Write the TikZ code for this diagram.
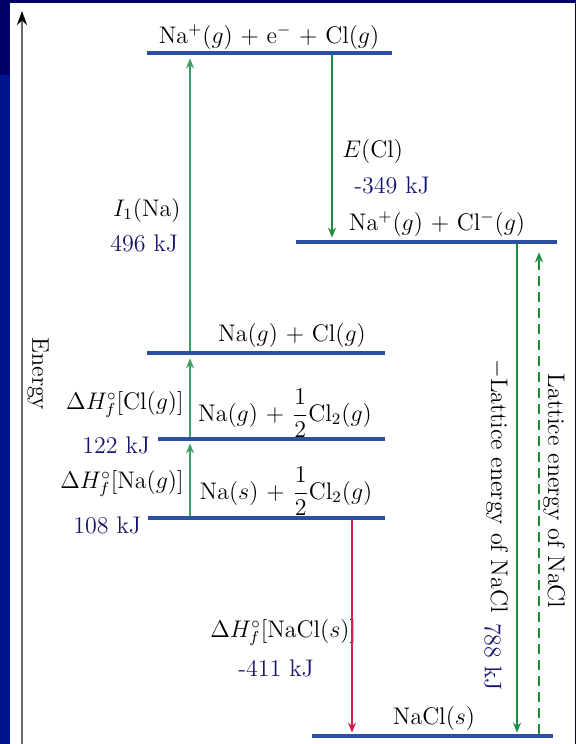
\documentclass[tikz,border=0pt]{standalone}
\usetikzlibrary{arrows.meta,positioning}
\definecolor{bhNavy}{HTML}{000066}
\definecolor{bhRoyal}{HTML}{00158C}
\definecolor{bhLevel}{HTML}{2B4FA3}
\definecolor{bhGreen}{HTML}{3DA062}
\definecolor{bhDkGreen}{HTML}{1E8C3C}
\definecolor{bhRed}{HTML}{D2204C}
\definecolor{bhValue}{HTML}{16166E}
\definecolor{bhAxis}{HTML}{6A6A6A}

\begin{document}
\begin{tikzpicture}[
  x=0.5pt,y=-0.5pt,
  font=\fontsize{12}{14}\selectfont,
  level/.style={fill=bhLevel,inner sep=0pt,minimum height=2pt},
  lbl/.style={anchor=base,inner sep=0pt},
  val/.style={inner sep=0pt,text=bhValue},
  gup/.style={-{Stealth[length=5pt,width=4pt]},bhGreen,line width=0.75pt},
  gdown/.style={-{Stealth[length=5pt,width=4pt]},bhDkGreen,line width=0.75pt},
  rdown/.style={-{Stealth[length=5pt,width=4pt]},bhRed,line width=0.75pt}
]
\useasboundingbox (0,0) rectangle (576,744);
% slide frame
\fill[white] (0,0) rectangle (576,744);
\fill[bhNavy] (0,0) rectangle (576,3);
\fill[bhNavy] (0,0) rectangle (10,75);
\fill[bhRoyal] (0,75) rectangle (10,744);
\fill[bhNavy] (575,0) rectangle (576,744);

% energy axis
\coordinate (axisBot) at (22,744);
\coordinate (axisTop) at (22,11);
\draw[bhAxis,line width=1.2pt,-{Stealth[length=7pt,width=5pt,black]}] (axisBot) -- (axisTop);
\node[rotate=-90] (energy) at (38,374) {Energy};

% levels
\node[level,minimum width=122.5pt] (ionized) at (269.5,53)  {};
\node[level,minimum width=130.5pt] (ions)    at (426.5,242) {};
\node[level,minimum width=119pt]   (atoms)   at (266,353)   {};
\node[level,minimum width=113.5pt] (halfcl)  at (271.5,439) {};
\node[level,minimum width=118.5pt] (elem)    at (266.5,518) {};
\node[level,minimum width=120.5pt] (salt)    at (432.5,736) {};

\node[lbl] (ionizedLbl) at (269,43)  {Na$^+$($g$) + e$^-$ + Cl($g$)};
\node[lbl] (ionsLbl)    at (437,230) {Na$^+$($g$) + Cl$^-$($g$)};
\node[lbl] (atomsLbl)   at (292,341) {Na($g$) + Cl($g$)};
\node[lbl] (halfclLbl)  at (285,421) {Na($g$) + ${\displaystyle\frac{1}{2}}$Cl$_2$($g$)};
\node[lbl] (elemLbl)    at (286,499) {Na($s$) + ${\displaystyle\frac{1}{2}}$Cl$_2$($g$)};
\node[lbl] (saltLbl)    at (434,724) {NaCl($s$)};

% step labels
\node[anchor=base east,inner sep=0pt] (ionLbl) at (181,216) {$I_1$(Na)};
\node[val,anchor=base west] (ionVal) at (110,251) {496 kJ};
\node[anchor=base west,inner sep=0pt] (eaLbl) at (342,157) {$E$(Cl)};
\node[val,anchor=base west] (eaVal) at (354,193) {-349 kJ};
\node[anchor=base east,inner sep=0pt] (hclLbl) at (184,409) {$\Delta H^{\circ}_{f}$[Cl($g$)]};
\node[val,anchor=base west] (hclVal) at (82,453) {122 kJ};
\node[anchor=base east,inner sep=0pt] (hnaLbl) at (184,488) {$\Delta H^{\circ}_{f}$[Na($g$)]};
\node[val,anchor=base west] (hnaVal) at (73,533) {108 kJ};
\node[anchor=base west,inner sep=0pt] (hsaltLbl) at (210,637) {$\Delta H^{\circ}_{f}$[NaCl($s$)]};
\node[val,anchor=base west] (hsaltVal) at (238,676) {-411 kJ};
\node[rotate=-90] (negLat) at (497,486) {$-$Lattice energy of NaCl};
\node[val,rotate=-90] (latVal) at (493,657) {788 kJ};
\node[rotate=-90] (posLat) at (554,491) {Lattice energy of NaCl};

% arrows
\coordinate (xI) at (190,0);
\coordinate (xE) at (332,0);
\coordinate (xF) at (352,0);
\coordinate (xL) at (517,0);
\coordinate (xD) at (539,0);
\draw[gup,shorten >=1.5pt] (atoms.north -| xI) -- (ionized.south -| xI);
\draw[gup,shorten >=1.5pt] (halfcl.north -| xI) -- (atoms.south -| xI);
\draw[gup,shorten >=1pt] (elem.north -| xI) -- (halfcl.south -| xI);
\draw[gdown,shorten >=1pt] (ionized.south -| xE) -- (ions.north -| xE);
\draw[rdown,shorten >=0.5pt] (elem.south -| xF) -- (salt.north -| xF);
\draw[gdown,shorten >=0.5pt] (ions.south -| xL) -- (salt.north -| xL);
\draw[gdown,dash pattern=on 5pt off 3pt,shorten >=4pt] (salt.north -| xD) -- (ions.south -| xD);
\end{tikzpicture}
\end{document}
